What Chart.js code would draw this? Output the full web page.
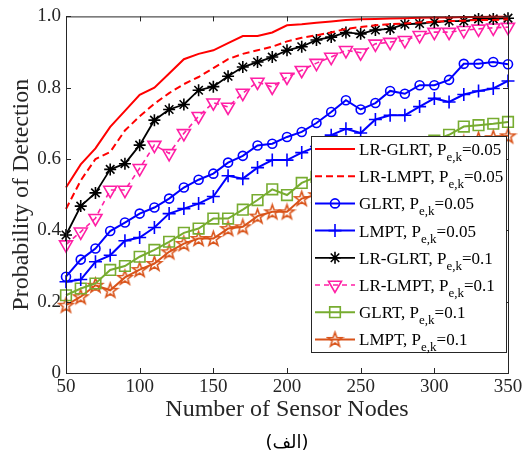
<!DOCTYPE html>
<html>
<head>
<meta charset="utf-8">
<script src="https://cdn.jsdelivr.net/npm/chart.js@4.4.1/dist/chart.umd.min.js"></script>
<style>
  html, body { margin: 0; padding: 0; background: #fff; }
  #wrap { width: 528px; height: 459px; }
</style>
</head>
<body>
<div id="wrap"><canvas id="myChart" width="528" height="459"></canvas></div>
<script>
// number of sensor nodes (x axis)
const nodes = [50, 60, 70, 80, 90, 100, 110, 120, 130, 140, 150, 160, 170, 180, 190, 200,
               210, 220, 230, 240, 250, 260, 270, 280, 290, 300, 310, 320, 330, 340, 350];

// probability of detection
const lrGlrt05 = [0.52, 0.585, 0.63, 0.69, 0.735, 0.78, 0.80, 0.84, 0.88, 0.895, 0.905, 0.925, 0.945, 0.945, 0.955, 0.975,
                  0.978, 0.982, 0.986, 0.99, 0.992, 0.993, 0.994, 0.995, 0.996, 0.997, 0.997, 0.998, 0.998, 0.999, 0.999];
const lrLmpt05 = [0.46, 0.54, 0.60, 0.62, 0.68, 0.72, 0.755, 0.785, 0.81, 0.83, 0.855, 0.88, 0.895, 0.905, 0.915, 0.93,
                  0.94, 0.947, 0.955, 0.965, 0.97, 0.975, 0.978, 0.98, 0.983, 0.985, 0.987, 0.988, 0.99, 0.99, 0.992];
const glrt05 = [0.27, 0.318, 0.349, 0.398, 0.422, 0.447, 0.464, 0.489, 0.52, 0.542, 0.559, 0.59, 0.609, 0.638, 0.643, 0.662,
                0.676, 0.701, 0.732, 0.765, 0.739, 0.757, 0.791, 0.783, 0.807, 0.807, 0.822, 0.867, 0.867, 0.872, 0.866];
const lmpt05 = [0.256, 0.262, 0.312, 0.33, 0.371, 0.38, 0.408, 0.447, 0.461, 0.475, 0.495, 0.553, 0.545, 0.576, 0.597, 0.597,
                0.618, 0.635, 0.667, 0.685, 0.673, 0.711, 0.723, 0.723, 0.747, 0.77, 0.76, 0.781, 0.791, 0.798, 0.819];
const lrGlrt1 = [0.387, 0.468, 0.505, 0.571, 0.587, 0.639, 0.709, 0.739, 0.753, 0.793, 0.803, 0.832, 0.858, 0.872, 0.886, 0.905,
                 0.915, 0.934, 0.942, 0.955, 0.951, 0.962, 0.965, 0.978, 0.98, 0.984, 0.987, 0.987, 0.993, 0.993, 0.995];
const lrLmpt1 = [0.36, 0.396, 0.434, 0.513, 0.513, 0.574, 0.639, 0.616, 0.672, 0.72, 0.758, 0.746, 0.785, 0.816, 0.802, 0.83,
                 0.849, 0.869, 0.886, 0.905, 0.898, 0.923, 0.928, 0.933, 0.947, 0.956, 0.956, 0.961, 0.965, 0.968, 0.97];
const glrt1 = [0.218, 0.237, 0.251, 0.289, 0.30, 0.326, 0.345, 0.368, 0.393, 0.405, 0.433, 0.433, 0.458, 0.485, 0.515, 0.499,
               0.533, 0.55, 0.56, 0.575, 0.59, 0.60, 0.615, 0.625, 0.64, 0.652, 0.668, 0.691, 0.695, 0.699, 0.704];
const lmpt1 = [0.19, 0.214, 0.246, 0.232, 0.268, 0.29, 0.307, 0.34, 0.363, 0.377, 0.377, 0.405, 0.41, 0.44, 0.452, 0.452,
               0.489, 0.50, 0.515, 0.53, 0.545, 0.56, 0.575, 0.59, 0.605, 0.62, 0.635, 0.645, 0.655, 0.66, 0.665];

// legend text pieces: name, subscript, value
const legendNames = ['LR-GLRT, P', 'LR-LMPT, P', 'GLRT, P', 'LMPT, P', 'LR-GLRT, P', 'LR-LMPT, P', 'GLRT, P', 'LMPT, P'];
const legendSub = 'e,k';
const legendVals = ['=0.05', '=0.05', '=0.05', '=0.05', '=0.1', '=0.1', '=0.1', '=0.1'];

const xTitle = 'Number of Sensor Nodes';
const yTitle = 'Probability of Detection';
const caption = '(الف)';

const serif = "'Liberation Serif', 'Times New Roman', serif";
const axisColor = '#262626';

// five pointed star marker (MATLAB pentagram)
function makePentagram(color, r) {
  const c = document.createElement('canvas');
  const s = Math.ceil(2 * r + 4);
  c.width = s; c.height = s;
  const g = c.getContext('2d');
  g.beginPath();
  for (let k = 0; k < 10; k++) {
    const ang = -Math.PI / 2 + k * Math.PI / 5;
    const rad = k % 2 === 0 ? r : r * 0.4;
    g.lineTo(s / 2 + rad * Math.cos(ang), s / 2 + rad * Math.sin(ang) + 0.5);
  }
  g.closePath();
  g.strokeStyle = color;
  g.lineWidth = 1.6;
  g.stroke();
  return c;
}
const pentagram = makePentagram('#D95319', 7.5);

function pts(arr) {
  return nodes.map((n, i) => ({ x: n, y: arr[i] }));
}

function series(data, color, style, radius, dash, width, rot) {
  return {
    data: pts(data),
    borderColor: color,
    borderWidth: width,
    borderDash: dash,
    pointStyle: style,
    pointRadius: radius,
    pointRotation: rot || 0,
    pointBorderColor: color,
    pointBackgroundColor: 'rgba(0,0,0,0)',
    pointBorderWidth: 1.6,
    tension: 0,
    clip: false
  };
}

const datasets = [
  series(lrGlrt05, '#FF0000', false, 0, [], 2),
  series(lrLmpt05, '#FF0000', false, 0, [7, 4], 2),
  series(glrt05, '#0000FF', 'circle', 4.5, [], 2),
  series(lmpt05, '#0000FF', 'cross', 6.5, [], 2),
  series(lrGlrt1, '#000000', 'star', 6, [], 1.8),
  series(lrLmpt1, '#FF1FA5', 'triangle', 7.5, [5, 4], 1.6, 180),
  series(glrt1, '#77AC30', 'rect', 7.5, [], 2),
  series(lmpt1, '#D95319', pentagram, 7.5, [], 2)
];

// box, inward ticks, axis titles, caption and the legend inside the axes
const decorPlugin = {
  id: 'decor',
  afterDraw(chart) {
    const ctx = chart.ctx;
    const a = chart.chartArea;
    const xs = chart.scales.x, ys = chart.scales.y;
    ctx.save();
    ctx.strokeStyle = axisColor;
    ctx.lineWidth = 1;
    ctx.strokeRect(a.left + 0.5, a.top + 0.5, a.right - a.left, a.bottom - a.top);
    ctx.beginPath();
    xs.ticks.forEach(t => {
      const px = Math.round(xs.getPixelForValue(t.value)) + 0.5;
      ctx.moveTo(px, a.bottom); ctx.lineTo(px, a.bottom - 5);
      ctx.moveTo(px, a.top); ctx.lineTo(px, a.top + 5);
    });
    ys.ticks.forEach(t => {
      const py = Math.round(ys.getPixelForValue(t.value)) + 0.5;
      ctx.moveTo(a.left, py); ctx.lineTo(a.left + 5, py);
      ctx.moveTo(a.right, py); ctx.lineTo(a.right - 5, py);
    });
    ctx.stroke();

    // axis titles
    ctx.fillStyle = axisColor;
    ctx.font = '24px ' + serif;
    ctx.textAlign = 'center';
    ctx.textBaseline = 'alphabetic';
    ctx.fillText(xTitle, (a.left + a.right) / 2, 416);
    ctx.save();
    ctx.translate(28, (a.top + a.bottom) / 2);
    ctx.rotate(-Math.PI / 2);
    ctx.fillText(yTitle, 0, 0);
    ctx.restore();

    ctx.fillStyle = '#000';
    ctx.font = "18px 'DejaVu Sans', sans-serif";
    ctx.textBaseline = 'middle';
    ctx.fillText(caption, (a.left + a.right) / 2, 443);

    // legend
    const lx = 311, ly = 136, lw = 195, lh = 216;
    ctx.fillStyle = '#fff';
    ctx.fillRect(lx, ly, lw, lh);
    ctx.strokeStyle = axisColor;
    ctx.strokeRect(lx + 0.5, ly + 0.5, lw, lh);
    chart.data.datasets.forEach((ds, i) => {
      const cy = 149 + i * 27.2;
      ctx.save();
      ctx.strokeStyle = ds.borderColor;
      ctx.lineWidth = ds.borderWidth;
      ctx.setLineDash(ds.borderDash || []);
      ctx.beginPath();
      ctx.moveTo(315, cy); ctx.lineTo(355, cy);
      ctx.stroke();
      ctx.setLineDash([]);
      if (ds.pointStyle) {
        ctx.fillStyle = 'rgba(0,0,0,0)';
        ctx.lineWidth = ds.pointBorderWidth;
        Chart.helpers.drawPoint(ctx, {
          pointStyle: ds.pointStyle,
          radius: ds.pointRadius,
          rotation: ds.pointRotation,
          borderWidth: ds.pointBorderWidth
        }, 335, cy);
      }
      ctx.restore();

      ctx.fillStyle = '#000';
      ctx.textAlign = 'left';
      ctx.textBaseline = 'alphabetic';
      ctx.font = '17px ' + serif;
      let tx = 359;
      ctx.fillText(legendNames[i], tx, cy + 6);
      tx += ctx.measureText(legendNames[i]).width;
      ctx.font = '13px ' + serif;
      ctx.fillText(legendSub, tx, cy + 12);
      tx += ctx.measureText(legendSub).width;
      ctx.font = '17px ' + serif;
      ctx.fillText(legendVals[i], tx, cy + 6);
    });
    ctx.restore();
  }
};

const ctx = document.getElementById('myChart').getContext('2d');
const myChart = new Chart(ctx, {
  type: 'line',
  data: { datasets: datasets },
  options: {
    responsive: false,
    animation: false,
    layout: { padding: { top: 16, right: 20, left: 0, bottom: 0 } },
    plugins: { legend: { display: false }, tooltip: { enabled: false } },
    scales: {
      x: {
        type: 'linear',
        min: 50,
        max: 350,
        grid: { display: false, drawTicks: false },
        border: { display: false },
        ticks: { stepSize: 50, padding: 3, maxRotation: 0, autoSkip: false, color: axisColor, font: { family: serif, size: 19 } },
        afterFit(s) { s.height = 86; }
      },
      y: {
        min: 0,
        max: 1,
        grid: { display: false, drawTicks: false },
        border: { display: false },
        ticks: { stepSize: 0.2, padding: 5, color: axisColor, font: { family: serif, size: 19 } },
        afterFit(s) { s.width = 66; }
      }
    }
  },
  plugins: [decorPlugin]
});
</script>
</body>
</html>
